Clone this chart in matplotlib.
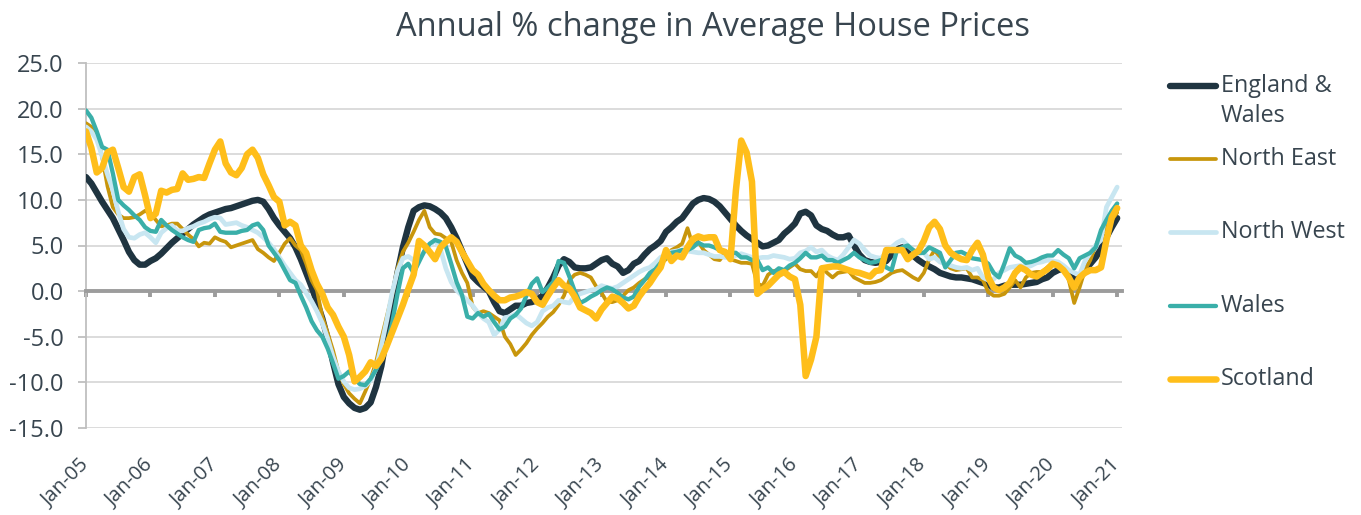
import numpy as np
import matplotlib.pyplot as plt
from matplotlib.lines import Line2D

plt.rcParams['font.family'] = ['Open Sans', 'DejaVu Sans']

# Monthly annual % change, Jan-05 .. Jan-21
eng_wales = [
    12.5, 11.8, 10.8, 9.8, 8.9, 8.0, 6.8, 5.6, 4.3, 3.4, 2.9, 2.9,
    3.3, 3.6, 4.1, 4.7, 5.3, 5.8, 6.3, 6.8, 7.3, 7.7, 8.1, 8.4,
    8.6, 8.8, 9.0, 9.1, 9.3, 9.5, 9.7, 9.9, 10.0, 9.8, 9.0, 8.0,
    7.2, 6.5, 5.8, 4.8, 3.5, 2.0, 0.5, -1.2, -3.0, -5.2, -7.8, -10.2,
    -11.6, -12.3, -12.8, -13.0, -12.8, -12.2, -10.5, -8.2, -4.8, -1.3, 2.0, 4.8,
    7.0, 8.8, 9.2, 9.4, 9.3, 9.0, 8.6, 8.0, 7.0, 5.8, 4.4, 3.0,
    1.6, 1.0, 0.5, 0.0, -1.2, -2.2, -2.4, -2.0, -1.6, -1.6, -1.3, -1.2,
    -1.0, -0.5, 0.4, 1.5, 2.8, 3.5, 3.2, 2.6, 2.5, 2.5, 2.6, 3.0,
    3.4, 3.6, 3.0, 2.7, 2.0, 2.3, 3.0, 3.3, 4.0, 4.6, 5.0, 5.5,
    6.5, 7.0, 7.6, 8.0, 8.8, 9.6, 10.0, 10.2, 10.1, 9.8, 9.3, 8.6,
    7.9, 7.2, 6.6, 6.1, 5.7, 5.3, 4.9, 5.0, 5.3, 5.6, 6.3, 6.8,
    7.4, 8.5, 8.7, 8.3, 7.2, 6.8, 6.6, 6.2, 5.9, 5.9, 6.1, 5.0,
    4.0, 3.4, 3.2, 3.1, 3.2, 3.3, 4.0, 4.6, 4.8, 4.4, 3.9, 3.4,
    3.0, 2.7, 2.4, 2.0, 1.8, 1.6, 1.5, 1.5, 1.4, 1.3, 1.1, 0.9,
    0.7, 0.4, 0.4, 0.6, 0.7, 0.7, 0.7, 0.8, 0.9, 1.0, 1.3, 1.5,
    2.0, 2.3, 2.5, 2.0, 1.2, 1.4, 2.3, 3.0, 3.7, 4.6, 5.9, 7.0,
    8.0]

north_east = [
    18.4, 18.0, 17.3, 14.7, 11.5, 9.2, 8.4, 8.0, 8.0, 8.1, 8.4, 8.8,
    8.5, 7.8, 7.1, 7.2, 7.4, 7.4, 6.8, 6.2, 5.7, 4.9, 5.3, 5.2,
    5.9, 5.6, 5.4, 4.8, 5.0, 5.2, 5.4, 5.6, 4.6, 4.2, 3.7, 3.3,
    4.2, 5.2, 5.8, 5.0, 4.5, 3.0, 1.2, 0.1, -2.8, -4.6, -6.5, -8.8,
    -10.2, -11.2, -11.8, -12.3, -11.0, -9.6, -7.8, -5.2, -2.8, -0.4, 2.5, 4.3,
    5.3, 6.5, 7.8, 8.8, 7.0, 6.3, 6.2, 5.8, 5.4, 3.4, 2.0, 0.9,
    -1.7, -2.4, -2.2, -2.4, -2.8, -3.2, -5.0, -5.8, -7.0, -6.4, -5.7, -4.8,
    -4.1, -3.5, -2.8, -2.3, -1.5, -0.5, 1.2, 1.8, 2.0, 1.8, 1.5, 0.5,
    -0.2, -1.2, -1.2, -1.0, -0.5, 0.1, 0.4, 0.9, 1.3, 1.5, 2.3, 3.0,
    3.5, 4.5, 4.8, 5.2, 6.9, 5.0, 5.4, 4.5, 4.0, 3.5, 3.4, 4.2,
    3.5, 3.3, 3.1, 3.1, 3.0, 0.8, 0.6, 1.8, 2.2, 2.3, 2.2, 2.6,
    3.0, 2.4, 2.2, 2.2, 1.6, 2.6, 2.0, 1.5, 2.0, 2.1, 2.2, 1.5,
    1.2, 0.9, 0.9, 1.0, 1.2, 1.6, 2.0, 2.2, 2.3, 1.9, 1.5, 1.2,
    2.0, 3.5, 4.5, 3.7, 3.0, 2.5, 2.3, 2.4, 2.5, 1.5, 1.5, 1.2,
    -0.1, -0.5, -0.5, -0.3, 0.4, 1.2, 0.4, 1.5, 2.0, 2.1, 2.1, 2.6,
    3.1, 2.8, 2.6, 1.2, -1.3, 0.4, 2.3, 3.4, 5.0, 6.2, 7.0, 7.8,
    8.6]

north_west = [
    18.0, 17.5, 16.6, 14.8, 12.8, 11.1, 8.7, 6.8, 5.9, 5.8, 6.2, 6.4,
    5.9, 5.3, 6.4, 6.9, 7.2, 6.6, 6.6, 6.9, 7.1, 7.4, 7.6, 7.9,
    8.1, 8.0, 7.3, 7.4, 7.5, 7.2, 7.0, 6.7, 6.4, 5.9, 5.3, 4.6,
    3.7, 2.8, 2.0, 1.2, 0.7, -0.2, -1.1, -2.2, -3.5, -5.2, -7.2, -8.8,
    -9.9, -10.6, -10.8, -10.7, -10.4, -9.8, -8.5, -6.0, -3.2, -0.2, 2.2, 3.6,
    3.8, 3.4, 3.6, 4.3, 5.0, 5.6, 4.6, 2.5, 1.0, 0.1, -0.5, -1.0,
    -1.6, -2.4, -3.0, -3.4, -4.8, -4.2, -2.9, -2.8, -2.5, -3.0, -3.5, -3.8,
    -3.4, -2.2, -1.8, -1.6, -1.0, -1.2, -1.3, -0.6, -0.3, -0.1, 0.1, 0.2,
    0.6, 0.4, 0.3, 0.5, 0.9, 1.3, 1.7, 2.1, 2.4, 2.6, 3.1, 3.7,
    4.0, 4.3, 4.4, 4.5, 4.4, 4.3, 4.2, 4.2, 4.0, 3.8, 3.8, 3.7,
    3.7, 3.9, 4.1, 3.9, 3.7, 3.6, 3.7, 3.7, 3.9, 3.8, 3.7, 3.5,
    3.6, 4.2, 4.4, 4.8, 4.3, 4.5, 3.9, 3.6, 3.4, 4.0, 4.8, 5.6,
    5.2, 4.5, 3.9, 3.7, 3.6, 4.2, 4.8, 5.3, 5.6, 5.0, 4.5, 4.1,
    4.2, 3.5, 3.7, 3.2, 3.0, 2.8, 2.6, 2.5, 2.6, 2.3, 2.5, 1.5,
    1.2, 1.3, 2.0, 2.3, 2.6, 2.7, 2.8, 2.6, 2.8, 3.1, 3.2, 3.4,
    3.3, 3.2, 2.8, 2.3, 2.0, 1.8, 3.3, 4.2, 5.0, 5.6, 9.2, 10.3,
    11.4]

wales = [
    19.8, 19.0, 17.5, 15.8, 15.5, 12.9, 10.0, 9.4, 8.9, 8.3, 7.8, 7.0,
    6.6, 6.5, 7.8, 7.2, 6.7, 6.3, 5.9, 5.6, 5.4, 6.7, 6.9, 7.0,
    7.4, 6.5, 6.4, 6.4, 6.4, 6.6, 6.7, 7.2, 7.4, 6.7, 5.0, 4.2,
    3.4, 2.3, 1.2, 0.9, -0.5, -1.8, -3.3, -4.3, -5.0, -6.3, -7.9, -9.6,
    -9.3, -8.8, -9.6, -10.2, -10.3, -9.6, -8.6, -7.5, -6.0, -3.5, -0.3, 2.5,
    3.0, 2.0, 3.2, 4.4, 5.2, 5.6, 5.4, 4.9, 3.0, 1.0, -0.4, -2.8,
    -3.0, -2.4, -2.8, -2.5, -3.4, -4.2, -3.9, -3.0, -2.6, -1.9, -0.5, 0.8,
    1.4, -0.1, 0.4, 1.0, 3.3, 3.1, 1.6, 0.0, -1.3, -1.0, -0.6, -0.3,
    0.1, 0.4, 0.2, -0.2, -0.7, -0.9, -0.6, 0.5, 1.2, 2.0, 2.4, 3.1,
    3.7, 4.2, 4.3, 4.5, 4.5, 4.8, 5.3, 5.0, 5.0, 4.8, 4.5, 4.2,
    4.2, 4.2, 3.7, 3.7, 3.4, 3.4, 2.3, 2.6, 2.0, 2.5, 2.3, 2.8,
    3.1, 3.6, 4.2, 3.7, 3.7, 3.9, 3.4, 3.4, 3.1, 3.4, 3.7, 4.2,
    3.7, 3.4, 3.1, 3.2, 3.4, 2.6, 2.3, 4.5, 4.8, 5.0, 4.5, 4.2,
    4.2, 4.8, 4.5, 4.2, 2.6, 3.4, 4.2, 4.3, 4.0, 3.6, 3.5, 3.4,
    3.0, 2.0, 1.5, 3.0, 4.7, 3.9, 3.6, 3.1, 3.2, 3.4, 3.7, 3.9,
    3.9, 4.5, 4.0, 3.6, 2.5, 3.6, 3.9, 4.2, 4.8, 6.7, 7.8, 8.8,
    9.6]

scotland = [
    17.5, 15.7, 13.0, 13.5, 15.2, 15.5, 13.5, 11.4, 10.9, 12.5, 12.8, 10.5,
    8.0, 8.5, 11.0, 10.8, 11.1, 11.2, 12.9, 12.2, 12.3, 12.5, 12.4, 14.0,
    15.5, 16.4, 14.0, 13.0, 12.7, 13.5, 15.0, 15.5, 14.6, 12.8, 11.6, 10.3,
    9.8, 7.2, 7.6, 7.2, 5.0, 4.2, 2.3, 0.8, -0.3, -1.8, -2.6, -3.9,
    -5.0, -7.0, -9.9, -9.4, -8.8, -7.8, -8.2, -7.4, -6.0, -4.5, -3.0, -1.5,
    0.2, 1.8, 5.5, 5.0, 4.3, 3.5, 4.8, 5.4, 5.9, 5.4, 4.3, 3.3,
    2.3, 1.8, 0.8, 0.1, -0.5, -1.0, -1.0, -0.7, -0.6, -0.4, -0.1, -0.3,
    -1.2, -1.5, -0.5, 0.4, 1.2, 0.6, 0.3, -0.6, -1.8, -2.1, -2.4, -3.0,
    -2.0, -1.3, -0.6, -0.8, -1.3, -1.9, -1.6, -0.6, 0.2, 0.9, 1.8, 2.6,
    4.5, 3.3, 3.9, 3.7, 4.8, 5.7, 6.0, 5.8, 5.9, 5.9, 4.5, 4.3,
    3.5, 11.0, 16.5, 15.2, 12.0, -0.3, 0.2, 0.6, 1.2, 1.8, 2.1, 1.6,
    1.3, -1.5, -9.3, -7.5, -5.0, 2.5, 2.6, 2.7, 2.7, 2.5, 2.3, 2.1,
    2.0, 1.8, 1.6, 2.2, 2.3, 4.5, 4.5, 4.5, 4.5, 3.5, 4.0, 4.4,
    5.5, 7.0, 7.6, 6.8, 5.0, 4.2, 3.8, 3.5, 3.4, 4.5, 5.3, 4.0,
    1.5, 0.4, 0.1, 0.4, 0.9, 2.0, 2.6, 2.3, 1.8, 1.6, 2.0, 2.4,
    3.0, 2.8, 2.3, 1.5, 0.4, 1.5, 2.0, 2.3, 2.3, 2.6, 5.6, 8.1,
    9.1]

series_names = ["England &\nWales", "North East", "North West", "Wales", "Scotland"]
tick_labels = ["Jan-05", "Jan-06", "Jan-07", "Jan-08", "Jan-09", "Jan-10", "Jan-11",
               "Jan-12", "Jan-13", "Jan-14", "Jan-15", "Jan-16", "Jan-17", "Jan-18",
               "Jan-19", "Jan-20", "Jan-21"]

colors = ['#1f3440', '#c8960c', '#c8e6f1', '#3aafa9', '#ffbe1a']
widths = [4.6, 2.7, 3.4, 3.1, 4.7]
text_col = '#38454f'

W, H = 1361, 515
fig = plt.figure(figsize=(W / 100, H / 100), dpi=100)
ax = fig.add_axes([86 / W, 1 - 428 / H, (1122 - 86) / W, (428 - 63) / H])

all_series = [eng_wales, north_east, north_west, wales, scotland]
for vals, col, lw in zip(all_series, colors, widths):
    x = np.arange(len(vals))
    ax.plot(x, vals, color=col, lw=lw, solid_joinstyle='round',
            solid_capstyle='round', zorder=3)

ax.set_xlim(0, 192.9)
ax.set_ylim(-15, 25)
yt = np.arange(-15, 26, 5)
ax.set_yticks(yt)
ax.set_yticklabels([f"{v:.1f}" for v in yt])
ax.set_xticks(np.arange(0, 193, 12))
ax.set_xticklabels(tick_labels)

ax.grid(axis='y', color='#d9d9d9', lw=1.3)
ax.set_axisbelow(True)
for s in ['top', 'right']:
    ax.spines[s].set_visible(False)
ax.spines['left'].set_color('#bfbfbf')
ax.spines['left'].set_linewidth(1.3)
ax.spines['bottom'].set_position(('data', 0))
ax.spines['bottom'].set_color('#9c9c9c')
ax.spines['bottom'].set_linewidth(2.8)

ax.tick_params(axis='y', length=6, width=1.3, color='#bfbfbf', pad=10,
               labelsize=17, labelcolor=text_col)
ax.tick_params(axis='x', length=4, width=2.8, color='#9c9c9c', pad=119,
               labelsize=14.5, labelcolor=text_col)
for lab in ax.get_xticklabels():
    lab.set_rotation(45)
    lab.set_ha('right')
    lab.set_va('center')
    lab.set_rotation_mode('anchor')

fig.text(713 / W, 1 - 27 / H, "Annual % change in Average House Prices",
         ha='center', va='center', fontsize=23.5, color=text_col)

# legend drawn on the right
leg_y = [86, 159, 232, 306, 379]
for name, col, lw, y in zip(series_names, colors, widths, leg_y):
    fig.add_artist(Line2D([1170 / W, 1216 / W], [1 - y / H, 1 - y / H],
                          color=col, lw=lw, solid_capstyle='round'))
    for i, line in enumerate(name.split('\n')):
        fig.text(1221 / W, 1 - (y + i * 30) / H, line, ha='left', va='center',
                 fontsize=16.8, color=text_col)

fig.savefig('out.png', dpi=100)
